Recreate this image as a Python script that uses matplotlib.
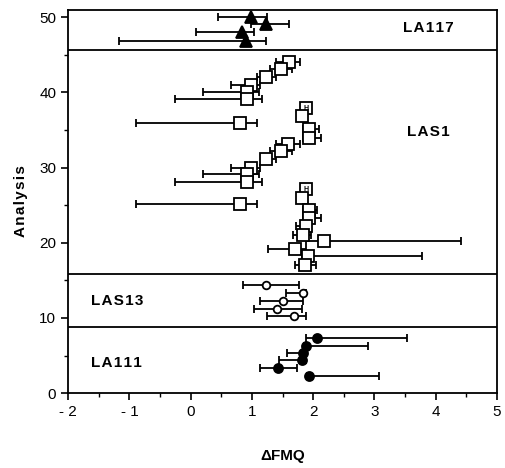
import numpy as np
import matplotlib.pyplot as plt

plt.rcParams['font.family'] = ['Liberation Sans', 'DejaVu Sans']

# LA117 (filled triangles)
la117_y = [50.0, 49.1, 48.0, 46.9]
la117_x = [0.99, 1.23, 0.83, 0.90]
la117_lo = [0.45, 0.99, 0.08, -1.17]
la117_hi = [1.25, 1.61, 1.03, 1.23]

# LAS1 (open squares)
las1_y = [44.0, 43.1, 42.0, 41.0, 40.0, 39.1, 37.9, 36.9, 35.9, 35.2, 34.0,
          33.1, 32.2, 31.1, 30.0, 29.1, 28.1, 27.1, 25.9, 25.2, 24.3, 23.3,
          22.2, 21.1, 20.2, 19.2, 18.2, 17.1]
las1_x = [1.60, 1.48, 1.23, 0.99, 0.92, 0.92, 1.88, 1.81, 0.81, 1.93, 1.93,
          1.59, 1.48, 1.23, 0.99, 0.92, 0.92, 1.88, 1.81, 0.81, 1.93, 1.93,
          1.88, 1.84, 2.17, 1.70, 1.91, 1.87]
las1_lo = [1.40, 1.29, 1.09, 0.66, 0.20, -0.26, 1.88, 1.81, -0.90, 1.84, 1.84,
           1.40, 1.29, 1.15, 0.66, 0.20, -0.26, 1.88, 1.81, -0.90, 1.84, 1.84,
           1.72, 1.67, 1.89, 1.26, 1.81, 1.71]
las1_hi = [1.78, 1.66, 1.40, 1.13, 1.11, 1.17, 1.88, 1.81, 1.09, 2.09, 2.13,
           1.78, 1.66, 1.40, 1.13, 1.11, 1.17, 1.88, 1.81, 1.09, 2.07, 2.13,
           1.97, 1.97, 4.42, 1.89, 3.78, 2.04]
las1_H = [37.9, 27.1]  # squares marked with "H"

# LAS13 (open circles)
las13_y = [14.4, 13.3, 12.3, 11.2, 10.3]
las13_x = [1.23, 1.83, 1.50, 1.41, 1.69]
las13_lo = [0.86, 1.56, 1.13, 1.04, 1.25]
las13_hi = [1.77, 1.89, 1.83, 1.82, 1.88]

# LA111 (filled circles)
la111_y = [7.3, 6.3, 5.4, 4.4, 3.3, 2.3]
la111_x = [2.06, 1.89, 1.83, 1.81, 1.42, 1.94]
la111_lo = [1.89, 1.85, 1.57, 1.44, 1.13, 1.90]
la111_hi = [3.54, 2.90, 1.89, 1.89, 1.73, 3.08]

separators = [45.7, 15.9, 8.8]

fig = plt.figure(figsize=(5.05, 4.68), dpi=100)
ax = fig.add_axes([0.135, 0.160, 0.849, 0.819])


def series(x, y, lo, hi, marker, ms, face):
    x = np.array(x)
    err = [x - np.array(lo), np.array(hi) - x]
    ax.errorbar(x, y, xerr=err, fmt='none', ecolor='black', elinewidth=1.3,
                capsize=3, capthick=1.3, zorder=2)
    ax.plot(x, y, linestyle='none', marker=marker, ms=ms, mfc=face,
            mec='black', mew=1.3, zorder=3)


def spaced(s):
    return '\u200a'.join(s)


series(la117_x, la117_y, la117_lo, la117_hi, '^', 8.5, 'black')
series(las1_x, las1_y, las1_lo, las1_hi, 's', 8, 'white')
series(las13_x, las13_y, las13_lo, las13_hi, 'o', 5.5, 'white')
series(la111_x, la111_y, la111_lo, la111_hi, 'o', 6.5, 'black')

for yh in las1_H:
    xh = las1_x[las1_y.index(yh)]
    ax.text(xh, yh, 'H', fontsize=5, fontweight='bold', ha='center',
            va='center', zorder=4)

for s in separators:
    ax.axhline(s, color='black', lw=1.3, zorder=1)

lab = dict(fontsize=11, fontweight='bold')
ax.text(3.88, 48.6, spaced('LA117'), ha='center', va='center', **lab)
ax.text(3.88, 34.8, spaced('LAS1'), ha='center', va='center', **lab)
ax.text(-1.2, 12.2, spaced('LAS13'), ha='center', va='center', **lab)
ax.text(-1.22, 4.0, spaced('LA111'), ha='center', va='center', **lab)

ax.set_xlim(-2, 5)
ax.set_ylim(0, 51)
ax.set_xticks(np.arange(-2, 6, 1))
ax.set_xticklabels(['- 2', '- 1', '0', '1', '2', '3', '4', '5'])
ax.set_xticks(np.arange(-2, 5.01, 0.5), minor=True)
ax.set_yticks(np.arange(0, 51, 10))
ax.set_yticks(np.arange(5, 50, 10), minor=True)
ax.tick_params(axis='both', which='major', length=5, width=1.2,
               labelsize=11, direction='out')
ax.tick_params(axis='both', which='minor', length=3, width=1.0,
               direction='out')
for sp in ax.spines.values():
    sp.set_linewidth(1.3)

ax.set_xlabel('ΔFMQ', fontsize=11, fontweight='bold', labelpad=22)
ax.set_ylabel(spaced('Analysis'), fontsize=11, fontweight='bold', labelpad=8)

fig.savefig('out.png', dpi=100)
